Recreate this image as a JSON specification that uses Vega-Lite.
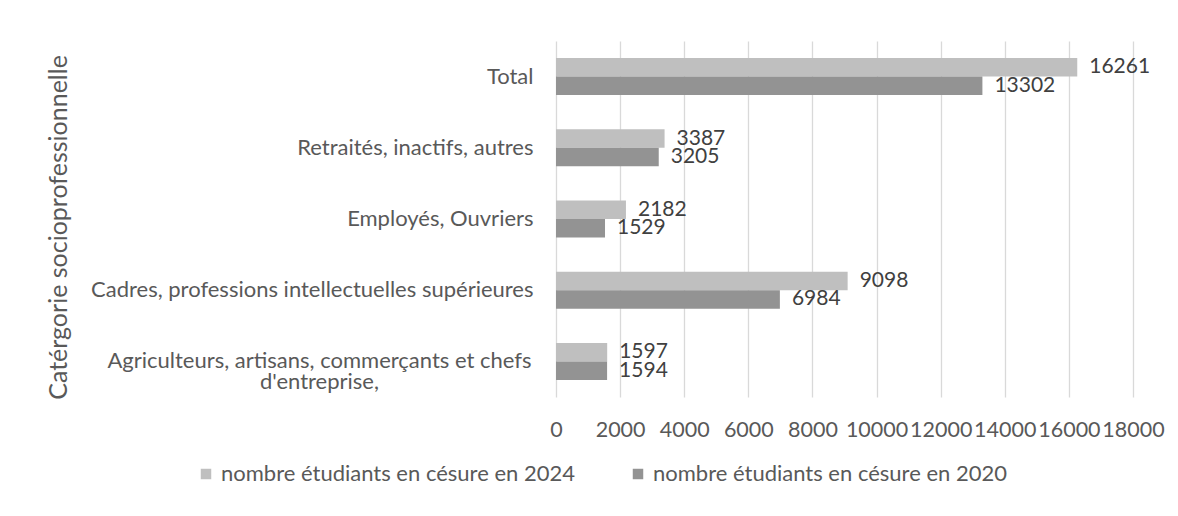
{
  "$schema": "https://vega.github.io/schema/vega-lite/v6.json",
  "autosize": {"type": "none"},
  "width": 577,
  "height": 356,
  "padding": {"left": 556, "top": 41, "right": 45, "bottom": 119},
  "background": "#FFFFFF",
  "config": {
    "view": {"stroke": null},
    "font": "Lato",
    "text": {"font": "Lato"}
  },
  "data": {
    "values": [
      {"categorie": "Total", "serie": "nombre étudiants en césure en 2024", "valeur": 16261},
      {"categorie": "Total", "serie": "nombre étudiants en césure en 2020", "valeur": 13302},
      {"categorie": "Retraités, inactifs, autres", "serie": "nombre étudiants en césure en 2024", "valeur": 3387},
      {"categorie": "Retraités, inactifs, autres", "serie": "nombre étudiants en césure en 2020", "valeur": 3205},
      {"categorie": "Employés, Ouvriers", "serie": "nombre étudiants en césure en 2024", "valeur": 2182},
      {"categorie": "Employés, Ouvriers", "serie": "nombre étudiants en césure en 2020", "valeur": 1529},
      {"categorie": "Cadres, professions intellectuelles supérieures", "serie": "nombre étudiants en césure en 2024", "valeur": 9098},
      {"categorie": "Cadres, professions intellectuelles supérieures", "serie": "nombre étudiants en césure en 2020", "valeur": 6984},
      {"categorie": "Agriculteurs, artisans, commerçants et chefs d'entreprise,", "serie": "nombre étudiants en césure en 2024", "valeur": 1597},
      {"categorie": "Agriculteurs, artisans, commerçants et chefs d'entreprise,", "serie": "nombre étudiants en césure en 2020", "valeur": 1594}
    ]
  },
  "encoding": {
    "y": {
      "field": "categorie",
      "type": "nominal",
      "sort": ["Total", "Retraités, inactifs, autres", "Employés, Ouvriers", "Cadres, professions intellectuelles supérieures", "Agriculteurs, artisans, commerçants et chefs d'entreprise,"],
      "scale": {"paddingInner": 0.48, "paddingOuter": 0.24},
      "axis": {
        "title": "Catérgorie socioprofessionnelle",
        "titleFont": "Lato",
        "titleFontSize": 25,
        "titleFontWeight": "normal",
        "titleColor": "#595959",
        "titleAngle": 270,
        "titleAlign": "center",
        "titleBaseline": "middle",
        "titleX": -498,
        "titleY": 186,
        "domain": false,
        "ticks": false,
        "grid": false,
        "labelFont": "Lato",
        "labelFontSize": 22,
        "labelColor": "#595959",
        "labelLimit": 600,
        "labelLineHeight": 21,
        "labelBaseline": "middle",
        "labelAlign": {"condition": {"test": "indexof(datum.value, 'Agriculteurs') == 0", "value": "center"}, "value": "right"},
        "labelPadding": {"condition": {"test": "indexof(datum.value, 'Agriculteurs') == 0", "value": 237}, "value": 23},
        "labelExpr": "indexof(datum.value, 'Agriculteurs') == 0 ? ['Agriculteurs, artisans, commerçants et chefs', \"d'entreprise,\"] : datum.label"
      }
    },
    "yOffset": {
      "field": "serie",
      "type": "nominal",
      "sort": ["nombre étudiants en césure en 2024", "nombre étudiants en césure en 2020"]
    },
    "x": {
      "field": "valeur",
      "type": "quantitative",
      "scale": {"domain": [0, 18000], "nice": false},
      "axis": {
        "title": null,
        "values": [0, 2000, 4000, 6000, 8000, 10000, 12000, 14000, 16000, 18000],
        "format": "d",
        "domain": false,
        "ticks": false,
        "grid": true,
        "gridColor": "#D9D9D9",
        "gridWidth": 1.3,
        "labelFont": "Lato",
        "labelFontSize": 21.5,
        "labelColor": "#595959",
        "labelBaseline": "alphabetic",
        "labelPadding": 39,
        "labelFlush": false
      }
    }
  },
  "layer": [
    {
      "mark": {"type": "bar"},
      "encoding": {
        "color": {
          "field": "serie",
          "type": "nominal",
          "sort": ["nombre étudiants en césure en 2024", "nombre étudiants en césure en 2020"],
          "scale": {"domain": ["nombre étudiants en césure en 2024", "nombre étudiants en césure en 2020"], "range": ["#BFBFBF", "#939393"]},
          "legend": {
            "title": null,
            "orient": "none",
            "direction": "horizontal",
            "legendX": -361,
            "legendY": 422,
            "symbolType": "square",
            "symbolSize": 110,
            "symbolStrokeWidth": 0,
            "labelFont": "Lato",
            "labelFontSize": 22,
            "labelColor": "#595959",
            "labelOffset": 4,
            "labelLimit": 500,
            "columnPadding": 52
          }
        }
      }
    },
    {
      "mark": {"type": "text", "align": "left", "baseline": "middle", "dx": 12, "font": "Lato", "fontSize": 21, "color": "#404040"},
      "encoding": {
        "text": {"field": "valeur", "type": "quantitative", "format": "d"}
      }
    }
  ]
}
